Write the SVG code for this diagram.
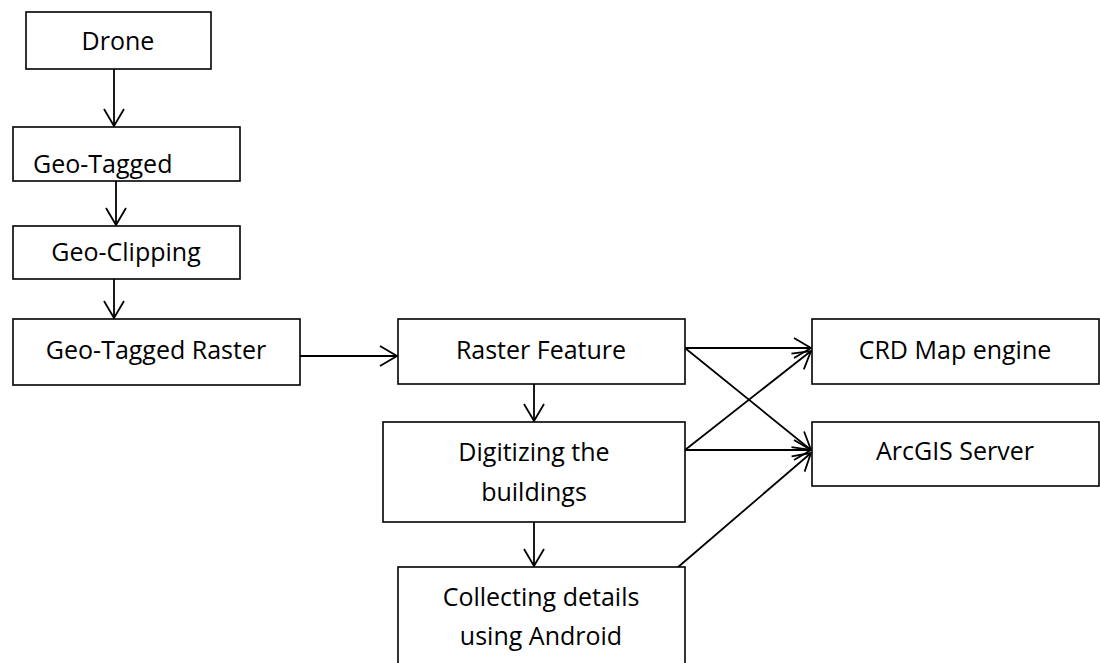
<svg xmlns="http://www.w3.org/2000/svg" width="1100" height="663" viewBox="0 0 1100 663">
<style>
.box{fill:#fff;stroke:#000;stroke-width:1.6}
.t{font-family:"Open Sans","Liberation Sans",Arial,sans-serif;font-size:25px;fill:#000;text-anchor:middle}
.c{fill:none;stroke:#000;stroke-width:1.8}
</style>
<defs>
<marker id="ah" viewBox="0 0 20 22" refX="18" refY="11" markerWidth="20" markerHeight="22" markerUnits="userSpaceOnUse" orient="auto">
<path d="M1,1 L18,11 L1,21" fill="none" stroke="#000" stroke-width="1.8"/>
</marker>
</defs>
<rect width="1100" height="663" fill="#fff"/>
<g id="connectors">
<line class="c" x1="114" y1="69" x2="114" y2="126" marker-end="url(#ah)"/>
<line class="c" x1="116" y1="181" x2="116" y2="225" marker-end="url(#ah)"/>
<line class="c" x1="114" y1="279" x2="114" y2="318" marker-end="url(#ah)"/>
<line class="c" x1="300" y1="356" x2="397" y2="356" marker-end="url(#ah)"/>
<line class="c" x1="534" y1="384" x2="534" y2="421" marker-end="url(#ah)"/>
<line class="c" x1="534" y1="522" x2="534" y2="566" marker-end="url(#ah)"/>
<line class="c" x1="685" y1="348" x2="811" y2="348" marker-end="url(#ah)"/>
<line class="c" x1="685" y1="348" x2="811" y2="450" marker-end="url(#ah)"/>
<line class="c" x1="685" y1="450" x2="811" y2="351" marker-end="url(#ah)"/>
<line class="c" x1="685" y1="450" x2="811" y2="450" marker-end="url(#ah)"/>
<line class="c" x1="677" y1="568" x2="811" y2="453" marker-end="url(#ah)"/>
</g>
<g id="drone"><rect class="box" x="26" y="12" width="185" height="57"/><text class="t" x="118" y="50">Drone</text></g>
<g id="geotagged"><rect class="box" x="13" y="127" width="227" height="54"/><text class="t" x="33" y="173" style="text-anchor:start">Geo-Tagged</text></g>
<g id="geoclipping"><rect class="box" x="13" y="226" width="227" height="53"/><text class="t" x="126" y="261">Geo-Clipping</text></g>
<g id="geotaggedraster"><rect class="box" x="13" y="319" width="287" height="66"/><text class="t" x="156" y="359">Geo-Tagged Raster</text></g>
<g id="rasterfeature"><rect class="box" x="398" y="319" width="287" height="65"/><text class="t" x="541" y="359">Raster Feature</text></g>
<g id="digitizing"><rect class="box" x="383" y="422" width="302" height="100"/><text class="t" x="534" y="461">Digitizing the</text><text class="t" x="534" y="501">buildings</text></g>
<g id="collecting"><rect class="box" x="398" y="567" width="287" height="110"/><text class="t" x="541" y="606">Collecting details</text><text class="t" x="541" y="645">using Android</text></g>
<g id="crd"><rect class="box" x="812" y="319" width="287" height="65"/><text class="t" x="955" y="359">CRD Map engine</text></g>
<g id="arcgis"><rect class="box" x="812" y="422" width="287" height="64"/><text class="t" x="955" y="460">ArcGIS Server</text></g>
</svg>
